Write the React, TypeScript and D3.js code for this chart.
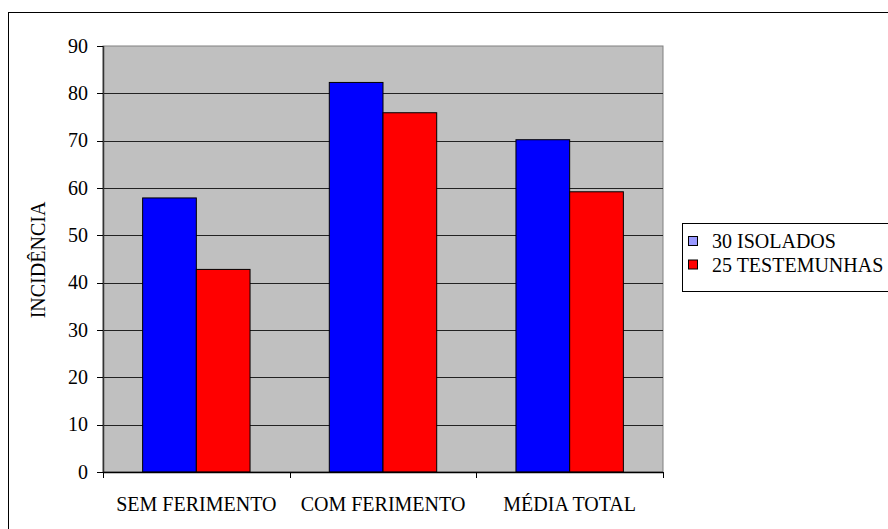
import React from "react";
import * as d3 from "d3";

const categories = ["SEM FERIMENTO", "COM FERIMENTO", "MÉDIA TOTAL"];
const seriesNames = ["30 ISOLADOS", "25 TESTEMUNHAS"];
const isolados = [57.9, 82.3, 70.2];
const testemunhas = [42.8, 75.9, 59.2];
const yTicks = [0, 10, 20, 30, 40, 50, 60, 70, 80, 90];

const W = 888;
const H = 529;
const plot = { left: 103, right: 663, top: 46, bottom: 472 };
const font = '"Liberation Serif", "Times New Roman", serif';
const fs = 20;

export default function App() {
  const x = d3
    .scaleBand<string>()
    .domain(categories)
    .range([plot.left, plot.right])
    .paddingInner(0)
    .paddingOuter(0);
  const y = d3.scaleLinear().domain([0, 90]).range([plot.bottom, plot.top]);
  const bw = x.bandwidth();
  const barW = bw * 0.2877;
  const groupOffset = (bw - 2 * barW) / 2;
  const series = [
    { name: seriesNames[0], values: isolados, fill: "#0000FF", swatch: "#9999FF" },
    { name: seriesNames[1], values: testemunhas, fill: "#FF0000", swatch: "#FF0000" },
  ];

  return (
    <svg
      width={W}
      height={H}
      style={{ position: "absolute", left: 0, top: 0, background: "#fff", fontFamily: font }}
    >
      <rect x={8.5} y={12.5} width={890} height={530} fill="#fff" stroke="#000" strokeWidth={1} />
      <rect
        x={plot.left}
        y={plot.top}
        width={plot.right - plot.left}
        height={plot.bottom - plot.top}
        fill="#C0C0C0"
        stroke="#808080"
        strokeWidth={1}
      />
      {yTicks.slice(1, -1).map((t) => (
        <line
          key={"g" + t}
          x1={plot.left}
          x2={plot.right}
          y1={Math.round(y(t)) + 0.5}
          y2={Math.round(y(t)) + 0.5}
          stroke="#222"
          strokeWidth={1}
        />
      ))}
      {series.map((s, si) =>
        categories.map((c, ci) => {
          const x0 = (x(c) as number) + groupOffset + si * barW;
          return (
            <rect
              key={s.name + c}
              x={x0}
              y={y(s.values[ci])}
              width={barW}
              height={plot.bottom - y(s.values[ci])}
              fill={s.fill}
              stroke="#000"
              strokeWidth={1}
            />
          );
        })
      )}
      <line x1={plot.left + 0.5} x2={plot.left + 0.5} y1={plot.top} y2={plot.bottom} stroke="#333" strokeWidth={1.5} />
      {yTicks.map((t) => (
        <g key={"t" + t}>
          <line
            x1={plot.left - 6}
            x2={plot.left}
            y1={Math.round(y(t)) + 0.5}
            y2={Math.round(y(t)) + 0.5}
            stroke="#000"
          />
          <text x={88} y={y(t) + 6.5} textAnchor="end" fontSize={fs} fill="#000" fontFamily={font}>
            {t}
          </text>
        </g>
      ))}
      <line x1={plot.left} x2={plot.right} y1={plot.bottom + 0.5} y2={plot.bottom + 0.5} stroke="#000" strokeWidth={1.5} />
      {[...categories.map((c) => x(c) as number), plot.right].map((v, i) => (
        <line key={"xt" + i} x1={Math.round(v) + 0.5} x2={Math.round(v) + 0.5} y1={plot.bottom} y2={plot.bottom + 6} stroke="#000" />
      ))}
      {categories.map((c) => (
        <text
          key={"xl" + c}
          x={(x(c) as number) + bw / 2}
          y={511}
          textAnchor="middle"
          fontSize={fs}
          fill="#000"
          fontFamily={font}
          letterSpacing={0}
        >
          {c}
        </text>
      ))}
      <text
        transform={`translate(45, 260) rotate(-90)`}
        textAnchor="middle"
        fontSize={fs}
        fill="#000"
        fontFamily={font}
      >
        INCIDÊNCIA
      </text>
      <rect x={682.5} y={223.5} width={220} height={68} fill="#fff" stroke="#000" strokeWidth={1} />
      {series.map((s, i) => (
        <g key={"lg" + i}>
          <rect x={688.5} y={236.5 + i * 23.5} width={9} height={9} fill={s.swatch} stroke="#000" />
          <text x={712} y={248 + i * 23.5} fontSize={fs} fill="#000" fontFamily={font}>
            {s.name}
          </text>
        </g>
      ))}
    </svg>
  );
}
